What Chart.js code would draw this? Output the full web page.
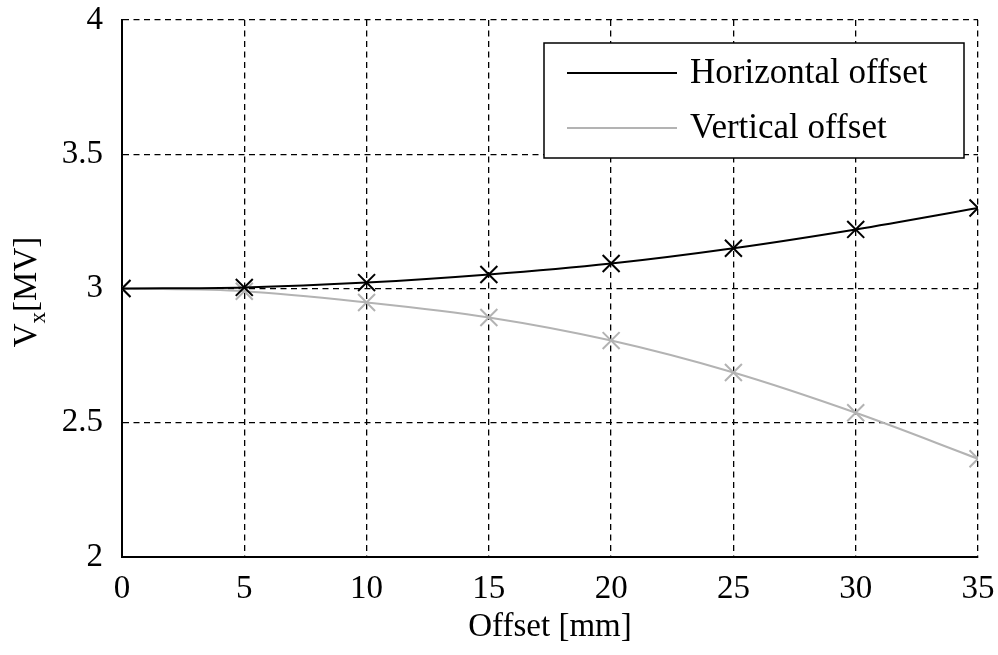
<!DOCTYPE html>
<html>
<head>
<meta charset="utf-8">
<script src="https://cdn.jsdelivr.net/npm/chart.js@4/dist/chart.umd.min.js"></script>
<style>
  html, body { margin: 0; padding: 0; background: #fff; }
  #wrap { width: 998px; height: 655px; }
</style>
</head>
<body>
<div id="wrap"><canvas id="chart" width="998" height="655"></canvas></div>
<script>
// offsets in mm
const offsets = [0, 5, 10, 15, 20, 25, 30, 35];
const horizontalVx = [3.0, 3.004, 3.022, 3.052, 3.093, 3.15, 3.22, 3.30];
const verticalVx = [3.0, 2.99, 2.948, 2.892, 2.806, 2.687, 2.537, 2.366];
const seriesLabels = ["Horizontal offset", "Vertical offset"];
const seriesColors = ["#000000", "#b3b3b3"];
const xTitle = "Offset [mm]";
const yTitleMain = "V";
const yTitleSub = "x";
const yTitleRest = "[MV]";

const FONT = "'Liberation Serif', 'Times New Roman', serif";

const toPoints = (ys) => offsets.map((x, i) => ({ x: x, y: ys[i] }));

// axis titles + legend box drawn on top
const decorations = {
  id: "decorations",
  afterDraw(chart) {
    const { ctx, chartArea } = chart;
    ctx.save();
    ctx.fillStyle = "#000";

    // x title
    ctx.font = "33px " + FONT;
    ctx.textAlign = "center";
    ctx.textBaseline = "alphabetic";
    ctx.fillText(xTitle, (chartArea.left + chartArea.right) / 2, 636);

    // y title, rotated, with subscript
    ctx.save();
    ctx.translate(36, 292);
    ctx.rotate(-Math.PI / 2);
    ctx.textAlign = "left";
    const bigFont = "33px " + FONT;
    const smallFont = "23px " + FONT;
    ctx.font = bigFont;
    const w1 = ctx.measureText(yTitleMain).width;
    const w3 = ctx.measureText(yTitleRest).width;
    ctx.font = smallFont;
    const w2 = ctx.measureText(yTitleSub).width;
    let x0 = -(w1 + w2 + w3) / 2;
    ctx.font = bigFont;
    ctx.fillText(yTitleMain, x0, 0);
    ctx.font = smallFont;
    ctx.fillText(yTitleSub, x0 + w1, 9);
    ctx.font = bigFont;
    ctx.fillText(yTitleRest, x0 + w1 + w2, 0);
    ctx.restore();

    // legend
    const bx = 544, by = 43, bw = 420, bh = 115;
    ctx.fillStyle = "#fff";
    ctx.fillRect(bx, by, bw, bh);
    ctx.strokeStyle = "#000";
    ctx.lineWidth = 1.5;
    ctx.strokeRect(bx, by, bw, bh);
    ctx.font = "35px " + FONT;
    ctx.textAlign = "left";
    ctx.textBaseline = "middle";
    chart.data.datasets.forEach((ds, i) => {
      const ly = by + 30 + i * 55;
      ctx.strokeStyle = ds.borderColor;
      ctx.lineWidth = 2;
      ctx.beginPath();
      ctx.moveTo(567, ly);
      ctx.lineTo(677, ly);
      ctx.stroke();
      ctx.fillStyle = "#000";
      ctx.fillText(ds.label, 690, ly + 1);
    });
    ctx.restore();
  }
};

const noPad = (scale) => {
  scale.paddingTop = 0;
  scale.paddingBottom = 0;
  scale.paddingLeft = 0;
  scale.paddingRight = 0;
};

new Chart(document.getElementById("chart"), {
  type: "line",
  data: {
    datasets: seriesLabels.map((label, i) => ({
      label: label,
      data: toPoints(i === 0 ? horizontalVx : verticalVx),
      borderColor: seriesColors[i],
      backgroundColor: seriesColors[i],
      borderWidth: 2,
      pointStyle: "crossRot",
      pointRadius: 12,
      pointBorderWidth: 2,
      pointHoverRadius: 12,
      cubicInterpolationMode: "monotone",
      fill: false,
      clip: 0,
    })),
  },
  options: {
    responsive: false,
    animation: false,
    events: [],
    layout: { padding: { top: 20, right: 20, left: 0, bottom: 0 } },
    plugins: {
      legend: { display: false },
      tooltip: { enabled: false },
    },
    scales: {
      x: {
        type: "linear",
        min: 0,
        max: 35,
        ticks: {
          stepSize: 5,
          color: "#000",
          font: { family: FONT, size: 33 },
          padding: 13,
          maxRotation: 0,
        },
        grid: { color: "#000", lineWidth: 1.3, drawTicks: false },
        border: { display: true, color: "#000", width: 2, dash: [6, 4.5] },
        afterFit: (scale) => { scale.height = 98; noPad(scale); },
      },
      y: {
        min: 2,
        max: 4,
        ticks: {
          stepSize: 0.5,
          color: "#000",
          font: { family: FONT, size: 33 },
          padding: 19,
          callback: (v) => String(v),
        },
        grid: { color: "#000", lineWidth: 1.3, drawTicks: false },
        border: { display: true, color: "#000", width: 2, dash: [6, 4.5] },
        afterFit: (scale) => { scale.width = 122; noPad(scale); },
      },
    },
  },
  plugins: [decorations],
});
</script>
</body>
</html>
